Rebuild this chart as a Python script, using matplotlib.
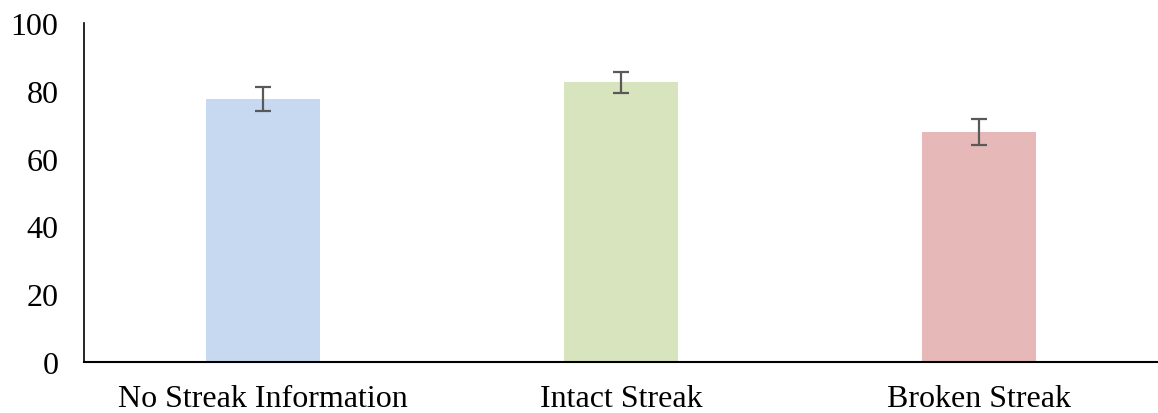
import matplotlib.pyplot as plt

categories = ['No Streak Information', 'Intact Streak', 'Broken Streak']
means = [77.7, 82.6, 67.9]
errors = [3.5, 3.1, 3.7]
colors = ['#C6D9F0', '#D7E4BD', '#E6B9B8']

plt.rcParams['font.family'] = ['Liberation Serif', 'DejaVu Serif']

fig = plt.figure(figsize=(11.58, 4.14), dpi=100)
ax = fig.add_axes([0.0725, 0.124, 0.9275, 0.817])

xpos = range(len(categories))
ax.bar(xpos, means, width=0.316, color=colors, zorder=2)
ax.errorbar(xpos, means, yerr=errors, fmt='none', ecolor='#595959',
            elinewidth=1.6, capsize=6, capthick=1.6, zorder=3)

ax.set_xlim(-0.5, 2.5)
ax.set_ylim(0, 100)
ax.set_yticks([0, 20, 40, 60, 80, 100])
ax.set_xticks(list(xpos))
ax.set_xticklabels(categories)

ax.spines['top'].set_visible(False)
ax.spines['right'].set_visible(False)
ax.spines['left'].set_linewidth(1.2)
ax.spines['bottom'].set_linewidth(1.5)
ax.tick_params(axis='y', length=0, pad=18.5, labelsize=23)
ax.tick_params(axis='x', length=0, pad=16, labelsize=23)

plt.savefig('out.png', dpi=100)
